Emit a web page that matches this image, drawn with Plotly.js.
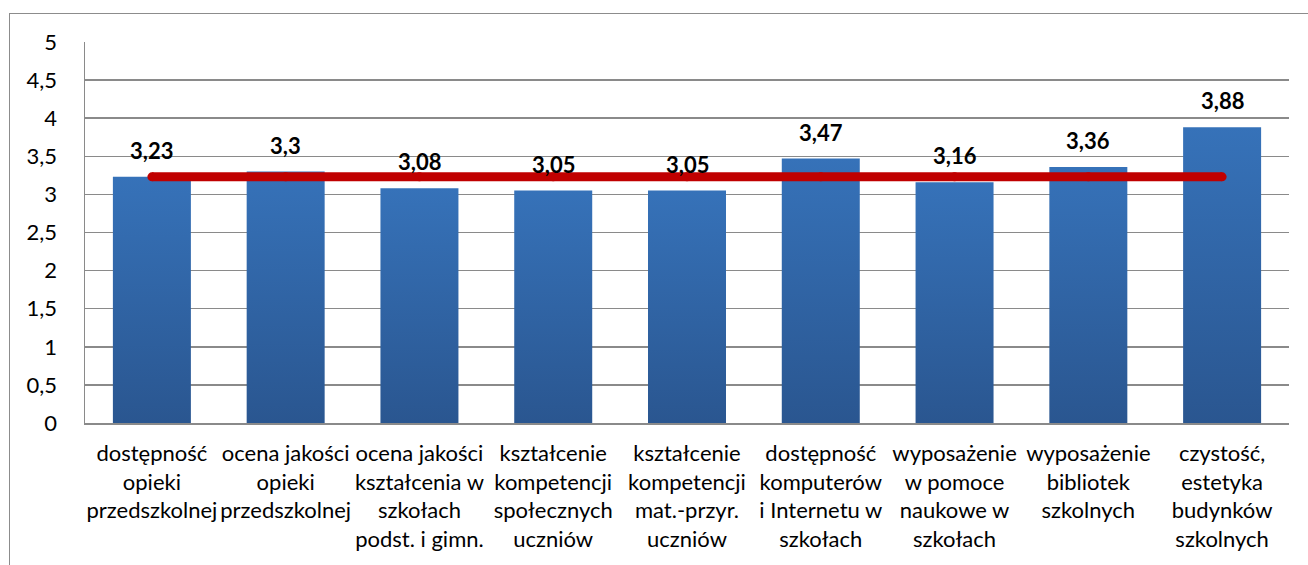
<!DOCTYPE html>
<html>
<head>
<meta charset="utf-8">
<script src="https://cdn.plot.ly/plotly-3.0.1.min.js"></script>
<style>
	html, body { margin: 0; padding: 0; background: white; }
	#chart { position: absolute; left: 0; top: 0; width: 1308px; height: 565px; }
	#frame { position: absolute; left: 9px; top: 13px; width: 1320px; height: 600px;
	         border: 1px solid #8c8c8c; pointer-events: none; }
</style>
</head>
<body>
<div id="chart"></div>
<div id="frame"></div>
<script>
const CATEGORIES = [
	'dostępność<br>opieki<br>przedszkolnej',
	'ocena jakości<br>opieki<br>przedszkolnej',
	'ocena jakości<br>kształcenia w<br>szkołach<br>podst. i gimn.',
	'kształcenie<br>kompetencji<br>społecznych<br>uczniów',
	'kształcenie<br>kompetencji<br>mat.-przyr.<br>uczniów',
	'dostępność<br>komputerów<br>i Internetu w<br>szkołach',
	'wyposażenie<br>w pomoce<br>naukowe w<br>szkołach',
	'wyposażenie<br>bibliotek<br>szkolnych',
	'czystość,<br>estetyka<br>budynków<br>szkolnych'
];
const SCORES  = [ 3.23, 3.3, 3.08, 3.05, 3.05, 3.47, 3.16, 3.36, 3.88 ];
const AVERAGE = [ 3.23, 3.23, 3.23, 3.23, 3.23, 3.23, 3.23, 3.23, 3.23 ];
const Y_TICKS = [ 0, 0.5, 1, 1.5, 2, 2.5, 3, 3.5, 4, 4.5, 5 ];

const FONT      = 'Lato, "Open Sans", sans-serif';
const BAR_COLOR = '#3066ab';
const AVG_COLOR = '#c00000';
const GRID      = '#8a8a8a';

function fmt( v ) {
	return String( v ).replace( '.', ',' );
}

var traces = [
	{
		x     : CATEGORIES,
		y     : SCORES,
		type  : 'bar',
		marker: { color: BAR_COLOR },
		hoverinfo: 'none'
	},
	{
		x     : CATEGORIES,
		y     : AVERAGE,
		type  : 'scatter',
		mode  : 'lines+markers',
		line  : { color: AVG_COLOR, width: 9 },
		marker: { color: AVG_COLOR, size: 9 },
		hoverinfo: 'none'
	}
];

var labels = SCORES.map( function( v, i ) {
	return {
		x: CATEGORIES[ i ], y: v,
		xref: 'x', yref: 'y',
		text: '<b>' + fmt( v ) + '</b>',
		showarrow: false,
		yanchor: 'bottom',
		yshift: 11,
		font: { family: FONT, size: 22, color: 'black' }
	};
} );

var layout = {
	width        : 1308,
	height       : 565,
	showlegend   : false,
	separators   : ',.',
	bargap       : 0.417,
	margin       : { l: 85, r: 19, t: 42, b: 142 },
	paper_bgcolor: 'white',
	plot_bgcolor : 'white',
	font         : { family: FONT, size: 22, color: 'black' },
	xaxis: {
		type: 'category',
		showline: true, linecolor: GRID, linewidth: 1.5,
		showgrid: false,
		ticks: '',
		ticklabelstandoff: 10,
		tickfont: { family: FONT, size: 22, color: 'black' }
	},
	yaxis: {
		range: [ 0, 5 ], autorange: false,
		tickvals: Y_TICKS,
		showline: true, linecolor: GRID, linewidth: 1.5,
		showgrid: true, gridcolor: GRID, gridwidth: 1.5,
		zeroline: false,
		ticks: '',
		ticklabelstandoff: 22,
		tickfont: { family: FONT, size: 22, color: 'black' }
	},
	annotations: labels
};

Plotly.newPlot( 'chart', traces, layout, { staticPlot: true } ).then( function( gd ) {
	// vertical gradient on the bars, lighter on top like the original
	var ns   = 'http://www.w3.org/2000/svg';
	var defs = gd.querySelector( '.main-svg defs' );
	var grad = document.createElementNS( ns, 'linearGradient' );
	grad.setAttribute( 'id', 'barGrad' );
	grad.setAttribute( 'x1', '0' ); grad.setAttribute( 'y1', '0' );
	grad.setAttribute( 'x2', '0' ); grad.setAttribute( 'y2', '1' );
	[ [ '0', '#3672b9' ], [ '1', '#2a5690' ] ].forEach( function( s ) {
		var stop = document.createElementNS( ns, 'stop' );
		stop.setAttribute( 'offset', s[ 0 ] );
		stop.setAttribute( 'stop-color', s[ 1 ] );
		grad.appendChild( stop );
	} );
	defs.appendChild( grad );
	gd.querySelectorAll( '.bars .point path' ).forEach( function( p ) {
		p.style.fill = 'url(#barGrad)';
	} );
} );
</script>
</body>
</html>
